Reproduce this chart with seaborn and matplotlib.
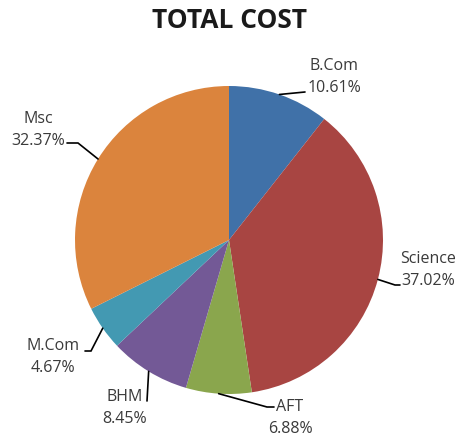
import matplotlib
matplotlib.use("Agg")
import matplotlib.pyplot as plt
import seaborn as sns
import numpy as np

categories = ["B.Com", "Science", "AFT", "BHM", "M.Com", "Msc"]
shares = [10.61, 37.02, 6.88, 8.45, 4.67, 32.37]
colors = ["#4071a8", "#a84542", "#8aa64d", "#735996", "#4399b2", "#db843d"]

# layout in figure pixels: text block centre, leader-line points after the wedge edge
label_center_px = [(334, 77), (428, 270), (290, 418), (125, 408), (53, 357), (38, 130)]
leader_px = [
    [(305, 93)],
    [(395, 286), (400, 286)],
    [(267, 408), (274, 408)],
    [(147, 402)],
    [(91, 352), (85, 352)],
    [(78, 144), (67, 144)],
]

sns.set_style("white")
plt.rcParams['font.family'] = ['Open Sans', 'DejaVu Sans']

W, H, dpi = 458, 439, 100
fig = plt.figure(figsize=(W / dpi, H / dpi), dpi=dpi)
ax = fig.add_axes([0, 0, 1, 1])
cx, cy, R = 229, 241, 154


def to_data(p):
    return ((p[0] - cx) / R, (cy - p[1]) / R)


wedges, _ = ax.pie(shares, colors=sns.color_palette(colors), startangle=90,
                   counterclock=False, radius=1.0, center=(0, 0),
                   wedgeprops=dict(linewidth=0), frame=False)
ax.set_xlim((0 - cx) / R, (W - cx) / R)
ax.set_ylim((cy - H) / R, (cy - 0) / R)
ax.set_aspect("auto")
ax.axis("off")

for w, cat, val, cpx, pts in zip(wedges, categories, shares, label_center_px, leader_px):
    ang = np.deg2rad((w.theta1 + w.theta2) / 2)
    xs = [np.cos(ang)] + [to_data(p)[0] for p in pts]
    ys = [np.sin(ang)] + [to_data(p)[1] for p in pts]
    ax.plot(xs, ys, color="black", lw=1.2, solid_joinstyle="miter")
    tx, ty = to_data(cpx)
    ax.text(tx, ty, f"{cat}\n{val:.2f}%", ha="center", va="center",
            fontsize=11.5, color="#3a3a3a", linespacing=1.45)

fig.text(0.5, 1 - 21 / H, "TOTAL COST", ha="center", va="center",
         fontsize=19, fontweight="bold", color="#1a1a1a")

fig.savefig("out.png", dpi=dpi)
